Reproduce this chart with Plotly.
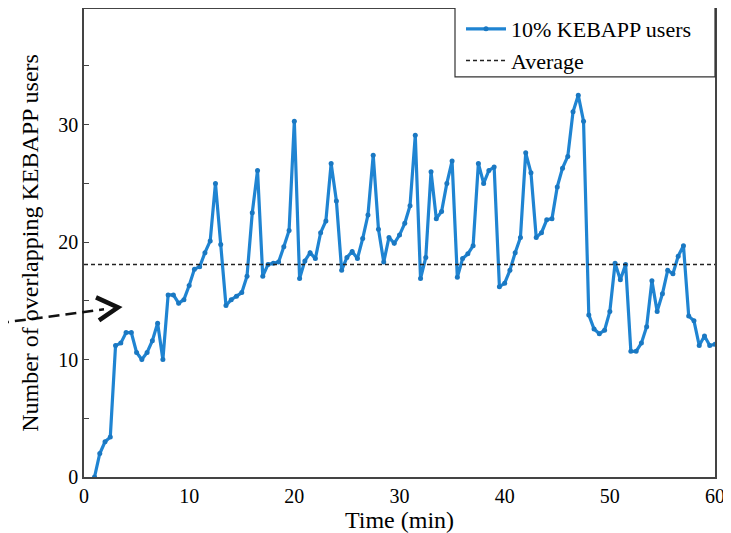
import plotly.graph_objects as go

time_min = [1.0, 1.5, 2.0, 2.5, 3.0, 3.5, 4.0, 4.5, 5.0, 5.5, 6.0, 6.5, 7.0, 7.5, 8.0, 8.5, 9.0, 9.5,
            10.0, 10.5, 11.0, 11.5, 12.0, 12.5, 13.0, 13.5, 14.0, 14.5, 15.0, 15.5, 16.0, 16.5, 17.0, 17.5,
            18.0, 18.5, 19.0, 19.5, 20.0, 20.5, 21.0, 21.5, 22.0, 22.5, 23.0, 23.5, 24.0, 24.5, 25.0, 25.5,
            26.0, 26.5, 27.0, 27.5, 28.0, 28.5, 29.0, 29.5, 30.0, 30.5, 31.0, 31.5, 32.0, 32.5, 33.0, 33.5,
            34.0, 34.5, 35.0, 35.5, 36.0, 36.5, 37.0, 37.5, 38.0, 38.5, 39.0, 39.5, 40.0, 40.5, 41.0, 41.5,
            42.0, 42.5, 43.0, 43.5, 44.0, 44.5, 45.0, 45.5, 46.0, 46.5, 47.0, 47.5, 48.0, 48.5, 49.0, 49.5,
            50.0, 50.5, 51.0, 51.5, 52.0, 52.5, 53.0, 53.5, 54.0, 54.5, 55.0, 55.5, 56.0, 56.5, 57.0, 57.5,
            58.0, 58.5, 59.0, 59.5, 60.0]

users = [0.0, 2.0, 3.0, 3.4, 11.2, 11.4, 12.3, 12.3, 10.6, 10.0, 10.6, 11.6, 13.1, 10.0, 15.5, 15.5, 14.8, 15.1,
         16.3, 17.7, 17.9, 19.1, 20.1, 25.0, 19.8, 14.6, 15.1, 15.4, 15.7, 17.1, 22.5, 26.1, 17.1, 18.1,
         18.2, 18.3, 19.6, 21.0, 30.3, 16.9, 18.4, 19.1, 18.6, 20.8, 21.8, 26.7, 23.5, 17.6, 18.7, 19.2,
         18.6, 20.3, 22.3, 27.4, 21.1, 18.3, 20.4, 19.9, 20.6, 21.6, 23.1, 29.1, 16.9, 18.7, 26.0, 22.0,
         22.6, 25.0, 26.9, 17.0, 18.6, 19.0, 19.7, 26.7, 25.0, 26.1, 26.4, 16.2, 16.5, 17.6, 19.1, 20.4,
         27.6, 25.9, 20.4, 20.8, 21.9, 22.0, 24.7, 26.3, 27.3, 31.1, 32.5, 30.3, 13.8, 12.6, 12.2, 12.5,
         14.1, 18.2, 16.8, 18.1, 10.7, 10.7, 11.4, 12.8, 16.7, 14.1, 15.6, 17.6, 17.3, 18.8, 19.7, 13.7,
         13.3, 11.2, 12.0, 11.2, 11.3]

average_value = 18.1
avg_x = [0, 60]
avg_y = [average_value, average_value]

y_tickvals = [0, 5, 10, 15, 20, 25, 30, 35]
y_ticktext = ["0", "", "10", "", "20", "", "30", ""]
x_tickvals = [0, 10, 20, 30, 40, 50, 60]

FONT = "Liberation Serif, Times New Roman, serif"
BLUE = "#1f84d2"

fig = go.Figure()
fig.add_trace(go.Scatter(
    x=time_min, y=users, mode="lines+markers", name="10% KEBAPP users",
    line=dict(color=BLUE, width=3.2), marker=dict(color="#1a78c2", size=5),
))
fig.add_trace(go.Scatter(
    x=avg_x, y=avg_y, mode="lines", name="Average",
    line=dict(color="#222222", width=1.5, dash="4px,3px"),
))

# page is rendered with an 8px body margin; work in page pixel coordinates
OFF = 8
W, H = 731 - OFF, 533 - OFF
PL, PR, PT, PB = 84, 715, 8, 477   # plot area in page pixels
L, R, T, B = PL - OFF, (731 - PR), PT - OFF, 533 - PB
pw, ph = PR - PL, PB - PT


def px(x):
    return (x - PL) / pw


def py(y):
    return (PB - y) / ph


shapes = [
    dict(type="line", xref="paper", yref="paper", x0=px(-2), y0=py(323), x1=px(104), y1=py(309),
         line=dict(color="#111111", width=2.5, dash="11px,6px")),
    dict(type="path", xref="paper", yref="paper",
         path=f"M {px(96)},{py(297)} L {px(118)},{py(307)} L {px(99)},{py(320)}",
         line=dict(color="#111111", width=4.5)),
    dict(type="rect", xref="paper", yref="paper", x0=px(455), y0=py(76), x1=px(715), y1=py(6),
         fillcolor="white", line=dict(color="#333333", width=1.2), layer="above"),
]

fig.update_layout(
    width=W, height=H,
    margin=dict(l=L, r=R, t=T, b=B),
    paper_bgcolor="white", plot_bgcolor="white",
    font=dict(family=FONT, color="black", size=20),
    showlegend=True,
    legend=dict(x=px(461), y=py(7), xanchor="left", yanchor="top", bgcolor="rgba(0,0,0,0)",
                borderwidth=0, font=dict(family=FONT, size=22),
                tracegroupgap=0, itemwidth=40),
    shapes=shapes,
    xaxis=dict(range=[0, 60], tickvals=x_tickvals, ticks="", showgrid=False, zeroline=False,
               showline=True, linecolor="#444444", linewidth=1.5, mirror=True,
               tickfont=dict(family=FONT, size=20),
               title=dict(text="Time (min)", font=dict(family=FONT, size=24), standoff=2)),
    yaxis=dict(range=[0, 39.85], tickvals=y_tickvals, ticktext=y_ticktext, ticks="inside",
               ticklen=5, tickcolor="#444444", showgrid=False, zeroline=False,
               showline=True, linecolor="#444444", linewidth=1.5, mirror=True,
               tickfont=dict(family=FONT, size=20),
               title=dict(text="Number of overlapping KEBAPP users", font=dict(family=FONT, size=24),
                          standoff=13)),
)

fig.write_html("out.html")
